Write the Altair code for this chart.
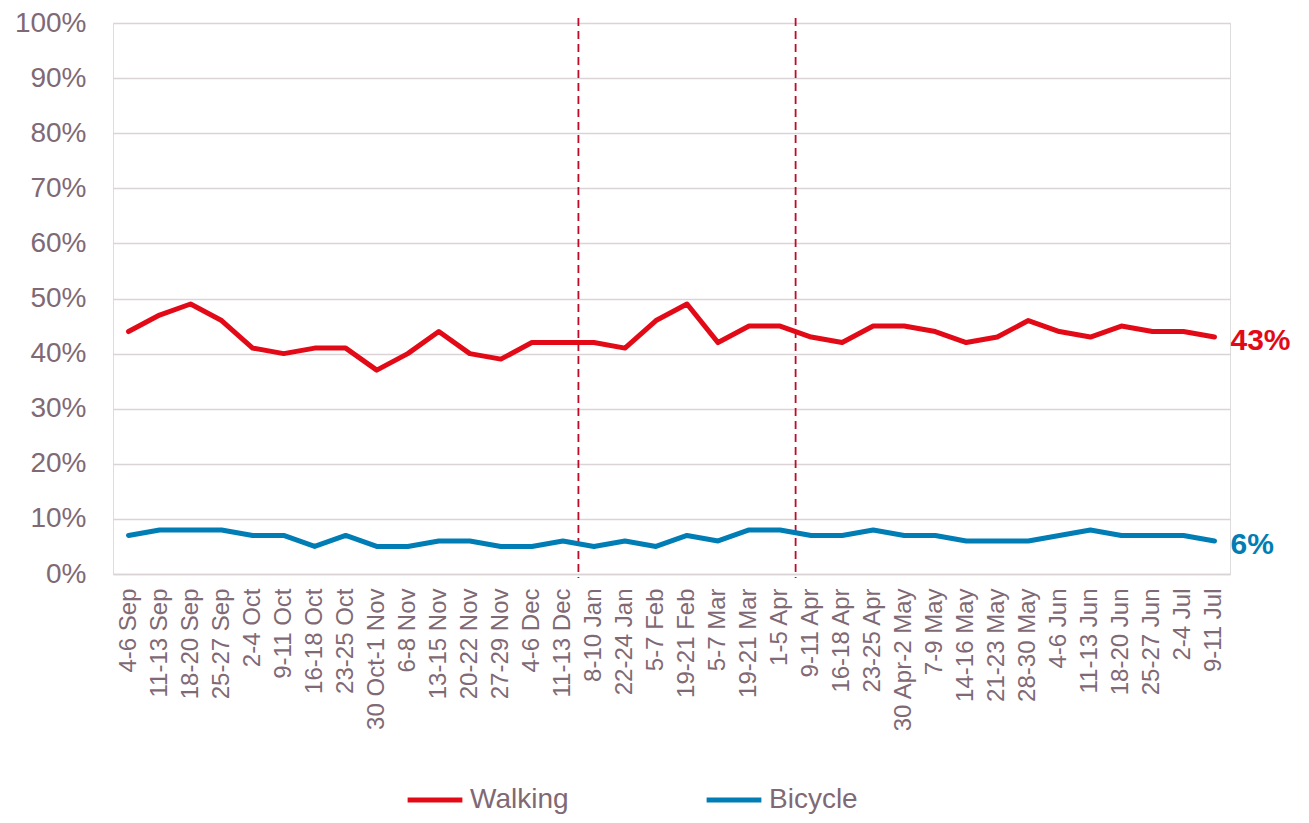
import altair as alt
import pandas as pd

periods = ["4-6 Sep", "11-13 Sep", "18-20 Sep", "25-27 Sep", "2-4 Oct", "9-11 Oct",
           "16-18 Oct", "23-25 Oct", "30 Oct-1 Nov", "6-8 Nov", "13-15 Nov", "20-22 Nov",
           "27-29 Nov", "4-6 Dec", "11-13 Dec", "8-10 Jan", "22-24 Jan", "5-7 Feb",
           "19-21 Feb", "5-7 Mar", "19-21 Mar", "1-5 Apr", "9-11 Apr", "16-18 Apr",
           "23-25 Apr", "30 Apr-2 May", "7-9 May", "14-16 May", "21-23 May", "28-30 May",
           "4-6 Jun", "11-13 Jun", "18-20 Jun", "25-27 Jun", "2-4 Jul", "9-11 Jul"]
walking = [44, 47, 49, 46, 41, 40, 41, 41, 37, 40, 44, 40, 39, 42, 42, 42, 41, 46,
           49, 42, 45, 45, 43, 42, 45, 45, 44, 42, 43, 46, 44, 43, 45, 44, 44, 43]
bicycle = [7, 8, 8, 8, 7, 7, 5, 7, 5, 5, 6, 6, 5, 5, 6, 5, 6, 5,
           7, 6, 8, 8, 7, 7, 8, 7, 7, 6, 6, 6, 7, 8, 7, 7, 7, 6]
series_names = ["Walking", "Bicycle"]
series_colors = ["#E30A17", "#007DB4"]
marker_periods = ["8-10 Jan", "9-11 Apr"]
y_ticks = [0, 10, 20, 30, 40, 50, 60, 70, 80, 90, 100]

TEXT = "#7F6975"
FONT = "Liberation Sans"

rows = []
for name, vals in zip(series_names, [walking, bicycle]):
    for p, v in zip(periods, vals):
        rows.append({"period": p, "series": name, "value": v})
df = pd.DataFrame(rows)

end_df = pd.DataFrame({
    "period": [periods[-1], periods[-1]],
    "series": series_names,
    "value": [walking[-1], bicycle[-1]],
    "label": [f"{walking[-1]}%", f"{bicycle[-1]}%"],
})
rule_df = pd.DataFrame({"period": marker_periods})

xscale = alt.Scale(type="band", domain=periods, paddingInner=0, paddingOuter=0)
yscale = alt.Scale(domain=[0, 100], nice=False)
cscale = alt.Scale(domain=series_names, range=series_colors)

x_enc = alt.X("period:N", scale=xscale, sort=periods, bandPosition=0.5,
              axis=alt.Axis(title=None, labelAngle=-90, labelFontSize=24, labelColor=TEXT,
                            labelFont=FONT, ticks=False, domain=True, domainColor="#DAD4D7",
                            domainWidth=1.5, labelPadding=14, grid=False))
y_enc = alt.Y("value:Q", scale=yscale,
              axis=alt.Axis(title=None, values=y_ticks, labelExpr="datum.value + '%'",
                            labelFontSize=28, labelColor=TEXT, labelFont=FONT, ticks=False,
                            domain=False, labelPadding=27, gridColor="#DAD4D7", gridWidth=1.5))

lines = alt.Chart(df).mark_line(strokeWidth=5, strokeCap="round", strokeJoin="round").encode(
    x=x_enc,
    y=y_enc,
    color=alt.Color("series:N", scale=cscale, sort=series_names,
                    legend=alt.Legend(title=None, orient="none", legendX=292, legendY=747,
                                      direction="horizontal", symbolType="stroke",
                                      symbolSize=3000, symbolStrokeWidth=5,
                                      labelFontSize=28, labelColor=TEXT, labelFont=FONT,
                                      labelOffset=5, columnPadding=127, padding=0)),
)

rules = alt.Chart(rule_df).mark_rule(color="#C00A2A", strokeWidth=1.8, strokeDash=[8, 5]).encode(
    x=alt.X("period:N", scale=xscale, sort=periods, bandPosition=0),
    y=alt.value(-5),
    y2=alt.value(555),
)

labels = alt.Chart(end_df).mark_text(align="left", baseline="middle", dx=16, dy=4,
                                     fontSize=30, fontWeight="bold", font=FONT).encode(
    x=alt.X("period:N", scale=xscale, sort=periods, bandPosition=0.5),
    y=alt.Y("value:Q", scale=yscale),
    text="label:N",
    color=alt.Color("series:N", scale=cscale, legend=None),
)

chart = alt.layer(rules, lines, labels).properties(
    width=1117, height=551,
    autosize=alt.AutoSizeParams(type="none"),
    padding={"left": 105, "top": 15, "right": 71, "bottom": 241},
).configure_view(stroke=None).configure(background="white")

chart.save("out.html", embed_options={"renderer": "svg", "actions": False})
